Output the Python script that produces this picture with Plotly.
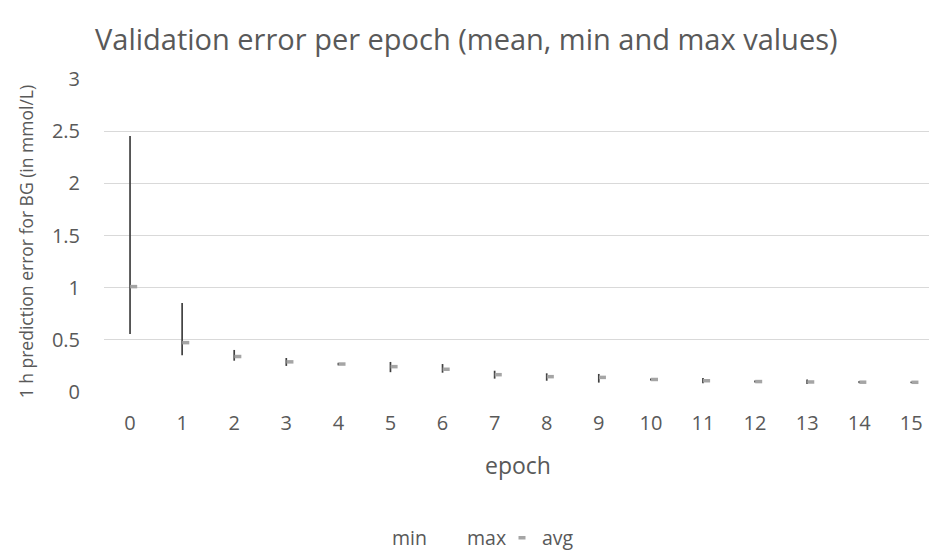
import plotly.graph_objects as go

epochs = list(range(16))
min_vals = [0.556, 0.352, 0.30, 0.25, 0.255, 0.19, 0.185, 0.128, 0.108, 0.09, 0.11, 0.083, 0.09, 0.077, 0.085, 0.085]
max_vals = [2.454, 0.853, 0.403, 0.326, 0.28, 0.288, 0.268, 0.204, 0.179, 0.173, 0.13, 0.134, 0.11, 0.12, 0.105, 0.10]
avg_vals = [1.01, 0.473, 0.340, 0.289, 0.268, 0.243, 0.218, 0.166, 0.147, 0.14, 0.12, 0.108, 0.10, 0.096, 0.094, 0.093]
tick_labels = [str(e) for e in epochs]

FONT = "Open Sans"
TXT = "#595959"

fig = go.Figure()

# high-low lines (min to max) drawn as asymmetric error bars from the min points
fig.add_trace(go.Scatter(
    x=epochs, y=min_vals, name="min", mode="markers",
    marker=dict(size=1, color="rgba(0,0,0,0)"),
    error_y=dict(type="data", symmetric=False,
                 array=[mx - mn for mx, mn in zip(max_vals, min_vals)],
                 arrayminus=[0] * len(min_vals),
                 width=0, thickness=1.7, color="#404040"),
    hoverinfo="skip",
))
fig.add_trace(go.Scatter(
    x=epochs, y=max_vals, name="max", mode="markers",
    marker=dict(size=1, color="rgba(0,0,0,0)"),
    hoverinfo="skip",
))
fig.add_trace(go.Scatter(
    x=epochs, y=avg_vals, name="avg", mode="markers", xaxis="x2",
    marker=dict(symbol="line-ew", size=5, color="#a5a5a5",
                line=dict(width=3.5, color="#a5a5a5")),
))

xr = [-0.5, 15.34]
shift = 0.07
fig.update_layout(
    width=929, height=550,
    margin=dict(l=104, r=0, t=79, b=158),
    paper_bgcolor="white", plot_bgcolor="white",
    font=dict(family=FONT, color=TXT, size=20),
    title=dict(text="Validation error per epoch (mean, min and max values)",
               font=dict(family=FONT, size=29, color=TXT),
               xref="container", yref="container",
               x=95 / 929, xanchor="left", y=1 - 40 / 550, yanchor="middle"),
    xaxis=dict(range=xr, tickmode="array", tickvals=epochs, ticktext=tick_labels,
               showgrid=False, zeroline=False, showline=False,
               ticks="outside", ticklen=13, tickcolor="rgba(0,0,0,0)",
               automargin=False, tickfont=dict(size=20, color=TXT)),
    xaxis2=dict(range=[xr[0] - shift, xr[1] - shift], overlaying="x", visible=False),
    yaxis=dict(range=[0, 3], tickvals=[0, 0.5, 1, 1.5, 2, 2.5, 3],
               ticktext=["0", "0.5", "1", "1.5", "2", "2.5", "3"],
               showgrid=True, gridcolor="#d9d9d9", gridwidth=1.3,
               zeroline=False, showline=False, ticks="outside", ticklen=19,
               automargin=False,
               tickcolor="rgba(0,0,0,0)", tickfont=dict(size=20, color=TXT)),
    showlegend=True,
    legend=dict(orientation="h", x=(352 - 104) / 825, xanchor="left",
                yref="container", y=1 - 538 / 550, yanchor="middle", entrywidth=30,
                font=dict(size=19.5, color=TXT), itemwidth=30),
    annotations=[
        dict(text="epoch", xref="paper", yref="paper",
             x=(518 - 104) / 825, y=-(465 - 392) / 313.7,
             xanchor="center", yanchor="middle", showarrow=False,
             font=dict(size=23, color=TXT)),
        dict(text="1 h prediction error for BG (in mmol/L)", xref="paper", yref="paper",
             x=(26 - 104) / 825, y=(392 - 242) / 313.7, textangle=-90,
             xanchor="center", yanchor="middle", showarrow=False,
             font=dict(size=17.5, color=TXT)),
    ],
)

fig.write_html("out.html", config={"displayModeBar": False},
               post_script="document.body.style.margin='0px';")
